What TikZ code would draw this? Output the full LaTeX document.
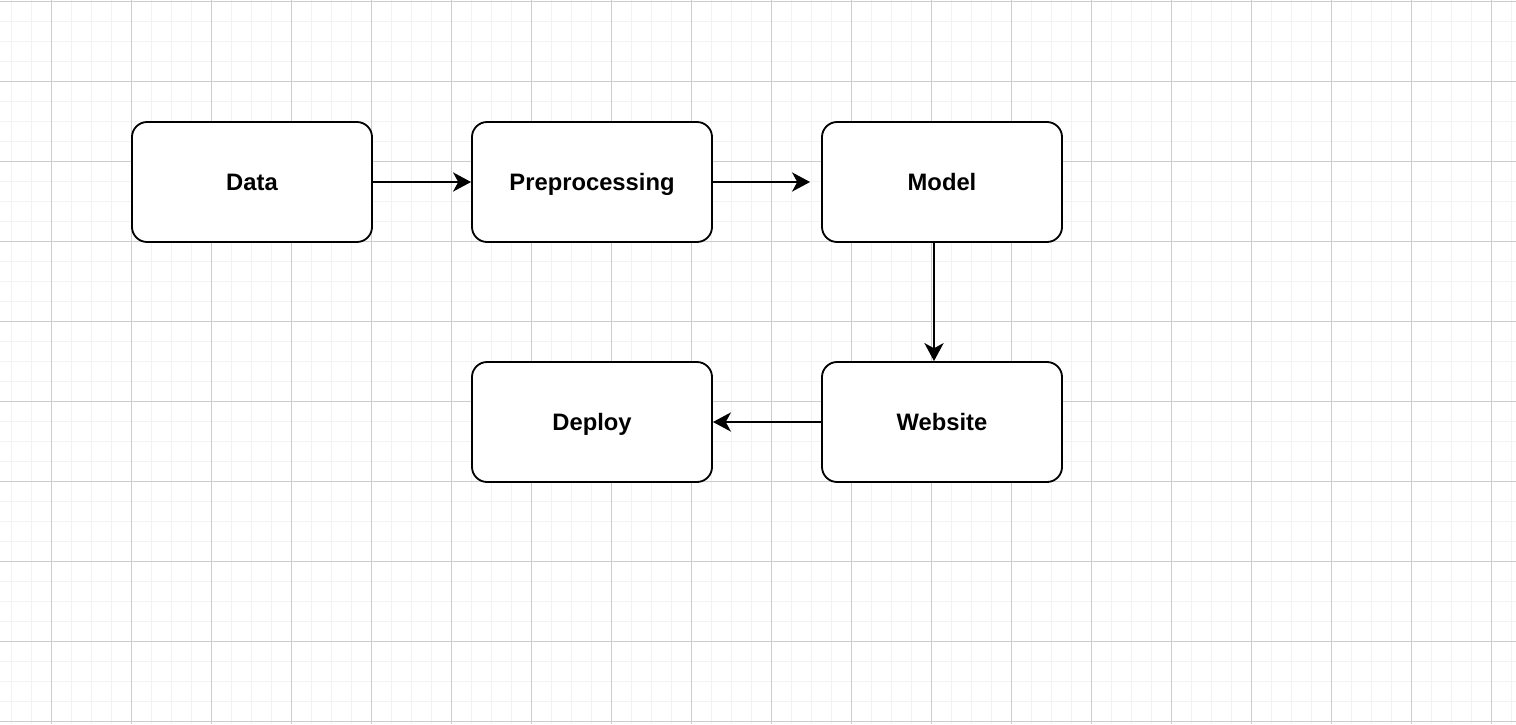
\documentclass[tikz,border=0pt]{standalone}
\usepackage{fontspec}
\setmainfont{Liberation Sans}
\usetikzlibrary{arrows.meta}

\tikzset{
  minorline/.style={draw=black!5, line width=0.7pt},
  majorline/.style={draw=black!20, line width=0.6pt},
  stage/.style={draw=black, fill=white, line width=1.3pt, rounded corners=0.38cm,
    minimum width=6cm, minimum height=3cm, text height=12.1pt, text depth=0pt,
    font=\fontsize{16.9}{20}\selectfont\bfseries},
  flow/.style={line width=1.3pt, -{Stealth[length=0.45cm, width=0.48cm, inset=0.13cm]}}
}

\begin{document}
\begin{tikzpicture}[x=0.025cm, y=-0.025cm]
            % Page and grid
            \useasboundingbox (0,0) rectangle (1516,724);
            \fill[white] (0,0) rectangle (1516,724);
            \foreach \gx in {11,31,...,1511} \draw[minorline] (\gx,0) -- (\gx,724);
            \foreach \gy in {1,21,...,721} \draw[minorline] (0,\gy) -- (1516,\gy);
            \foreach \gx in {51,131,...,1491} \draw[majorline] (\gx,0) -- (\gx,724);
            \foreach \gy in {1,81,...,721} \draw[majorline] (0,\gy) -- (1516,\gy);

            % Stages
            \node[stage] (data) at (252,182) {Data};
            \node[stage] (prep) at (592,182) {Preprocessing};
            \node[stage] (model) at (942,182) {Model};
            \node[stage] (website) at (942,422) {Website};
            \node[stage] (deploy) at (592,422) {Deploy};

            % Connectors
            \coordinate (modelin) at ([xshift=-0.275cm]model.west);
            \draw[flow] (data.east) -- (prep.west);
            \draw[flow] (prep.east) -- (modelin);
            \draw[flow] ([xshift=-0.2cm]model.south) -- ([xshift=-0.2cm]website.north);
            \draw[flow] (website.west) -- (deploy.east);
        \end{tikzpicture}
\end{document}
